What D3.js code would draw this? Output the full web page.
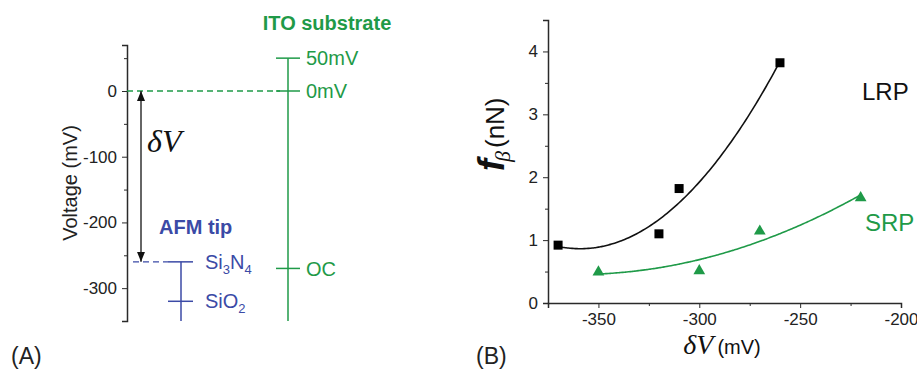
<!DOCTYPE html>
<html><head><meta charset="utf-8">
<script src="https://cdn.jsdelivr.net/npm/d3@7/dist/d3.min.js"></script>
<style>body{margin:0;background:#fff;} svg{display:block;font-family:Arial,"Liberation Sans",sans-serif;}</style>
</head><body>
<svg id="c" width="917" height="371"></svg>
<script>
// ---------- data ----------
// Panel A: energy level diagram (mV)
const itoLevels = [50, 0, -270];
const itoLabels = ["50mV", "0mV", "OC"];
const tipLevels = [-260, -320];          // Si3N4, SiO2
const tipLabels = ["Si3N4", "SiO2"];
const deltaV = [0, -260];
const aTicks = [-300, -200, -100, 0];
const aMinor = [-350, -250, -150, -50, 50];
// Panel B
const lrpX = [-370, -320, -310, -260];
const lrpY = [0.92, 1.10, 1.82, 3.82];
const srpX = [-350, -300, -270, -220];
const srpY = [0.50, 0.52, 1.15, 1.68];
const bxTicks = [-350, -300, -250, -200];
const bxMinor = [-325, -275, -225];
const byTicks = [0, 1, 2, 3, 4];
const byMinor = [0.5, 1.5, 2.5, 3.5];

const GREEN = "#1f9a48", BLUE = "#3b4aa6", AX = "#2a2a2a";
const fmt = d => String(d);   // plain hyphen minus, as in the figure
const svg = d3.select("#c");

// ---------- Panel A ----------
const yA = d3.scaleLinear().domain([-350, 70]).range([321, 45]);
const axA = 127, itoX = 288, tipX = 181, arrX = 141;
const gA = svg.append("g");
gA.append("g").attr("transform", `translate(${axA},0)`)
  .call(d3.axisLeft(yA).tickValues(aTicks).tickSize(5).tickPadding(5).tickFormat(fmt))
  .call(g => { g.select(".domain").attr("stroke-width", 1.5).attr("stroke", AX);
    g.selectAll("line").attr("stroke", AX);
    g.selectAll("text").attr("font-size", 17).attr("fill", "#222"); });
gA.append("g").attr("transform", `translate(${axA},0)`)
  .call(d3.axisLeft(yA).tickValues(aMinor).tickSize(3).tickFormat(""))
  .call(g => { g.select(".domain").remove(); g.selectAll("line").attr("stroke", AX); });
gA.append("text").attr("transform", `translate(77,183) rotate(-90)`)
  .attr("text-anchor", "middle").attr("font-size", 20).attr("fill", "#222").text("Voltage (mV)");

// ITO line
gA.append("line").attr("x1", itoX).attr("x2", itoX).attr("y1", yA(50)).attr("y2", yA(-350))
  .attr("stroke", GREEN).attr("stroke-width", 1.5);
itoLevels.forEach((v, i) => {
  gA.append("line").attr("x1", itoX - 12).attr("x2", itoX + 12).attr("y1", yA(v)).attr("y2", yA(v))
    .attr("stroke", GREEN).attr("stroke-width", 1.5);
  gA.append("text").attr("x", itoX + 18).attr("y", yA(v)).attr("dy", "0.36em")
    .attr("font-size", 20).attr("fill", GREEN).text(itoLabels[i]);
});
gA.append("text").attr("x", 327).attr("y", 30).attr("text-anchor", "middle")
  .attr("font-size", 20).attr("font-weight", "bold").attr("fill", GREEN).text("ITO substrate");
// dashed zero
gA.append("line").attr("x1", axA).attr("x2", itoX - 8).attr("y1", yA(0)).attr("y2", yA(0))
  .attr("stroke", GREEN).attr("stroke-width", 1.3).attr("stroke-dasharray", "6,4");

// tip
gA.append("line").attr("x1", tipX).attr("x2", tipX).attr("y1", yA(tipLevels[0])).attr("y2", yA(-350))
  .attr("stroke", BLUE).attr("stroke-width", 1.5);
tipLevels.forEach((v, i) => {
  gA.append("line").attr("x1", tipX - 13).attr("x2", tipX + 12).attr("y1", yA(v)).attr("y2", yA(v))
    .attr("stroke", BLUE).attr("stroke-width", 1.5);
  const t = gA.append("text").attr("x", 205).attr("y", yA(v) + 7).attr("font-size", 20).attr("fill", BLUE);
  const m = tipLabels[i].match(/^([A-Za-z]+)(\d)([A-Za-z]*)(\d?)$/);
  t.append("tspan").text(m[1]);
  t.append("tspan").attr("font-size", 13).attr("dy", 5).text(m[2]);
  if (m[3]) { t.append("tspan").attr("dy", -5).text(m[3]);
    t.append("tspan").attr("font-size", 13).attr("dy", 5).text(m[4]); }
});
gA.append("line").attr("x1", axA + 6).attr("x2", tipX - 13).attr("y1", yA(tipLevels[0])).attr("y2", yA(tipLevels[0]))
  .attr("stroke", BLUE).attr("stroke-width", 1.3).attr("stroke-dasharray", "6,4");
gA.append("text").attr("x", 159).attr("y", 234).attr("font-size", 20).attr("font-weight", "bold")
  .attr("fill", BLUE).text("AFM tip");

// double arrow
const defs = svg.append("defs");
defs.append("marker").attr("id", "ah").attr("viewBox", "0 0 10 10").attr("refX", 10).attr("refY", 5)
  .attr("markerWidth", 10).attr("markerHeight", 10).attr("markerUnits", "userSpaceOnUse").attr("orient", "auto-start-reverse")
  .append("path").attr("d", "M0,1 L10,5 L0,9 Z").attr("fill", "#111");
gA.append("line").attr("x1", arrX).attr("x2", arrX).attr("y1", yA(deltaV[0])).attr("y2", yA(deltaV[1]))
  .attr("stroke", "#333").attr("stroke-width", 1.5)
  .attr("marker-start", "url(#ah)").attr("marker-end", "url(#ah)");
gA.append("text").attr("x", 147).attr("y", 152).attr("font-family", "'Liberation Serif','DejaVu Serif',serif")
  .attr("font-style", "italic").attr("font-size", 32).attr("fill", "#111").text("δV");

gA.append("text").attr("x", 11).attr("y", 364).attr("font-size", 23).attr("fill", "#222").text("(A)");

// ---------- Panel B ----------
const xB = d3.scaleLinear().domain([-375, -200]).range([548, 901]);
const yB = d3.scaleLinear().domain([0, 4.5]).range([303, 20]);
const gB = svg.append("g");
gB.append("g").attr("transform", `translate(0,${yB(0)})`)
  .call(d3.axisBottom(xB).tickValues(bxTicks).tickSize(5).tickPadding(5).tickFormat(fmt))
  .call(g => { g.select(".domain").attr("stroke-width", 1.5).attr("stroke", AX);
    g.selectAll("line").attr("stroke", AX);
    g.selectAll("text").attr("font-size", 17).attr("fill", "#222"); });
gB.append("g").attr("transform", `translate(0,${yB(0)})`)
  .call(d3.axisBottom(xB).tickValues(bxMinor).tickSize(3).tickFormat(""))
  .call(g => { g.select(".domain").remove(); g.selectAll("line").attr("stroke", AX); });
gB.append("g").attr("transform", `translate(${xB(-375)},0)`)
  .call(d3.axisLeft(yB).tickValues(byTicks).tickSize(5).tickPadding(5).tickFormat(fmt))
  .call(g => { g.select(".domain").attr("stroke-width", 1.5).attr("stroke", AX);
    g.selectAll("line").attr("stroke", AX);
    g.selectAll("text").attr("font-size", 17).attr("fill", "#222"); });
gB.append("g").attr("transform", `translate(${xB(-375)},0)`)
  .call(d3.axisLeft(yB).tickValues(byMinor).tickSize(3).tickFormat(""))
  .call(g => { g.select(".domain").remove(); g.selectAll("line").attr("stroke", AX); });

// quadratic least-squares fit of the plotted points
function quadFit(xs, ys) {
  const mx = d3.mean(xs); const S = Array(5).fill(0), T = [0, 0, 0];
  xs.forEach((x0, i) => { const x = x0 - mx; let p = 1;
    for (let k = 0; k < 5; k++) { S[k] += p; if (k < 3) T[k] += p * ys[i]; p *= x; } });
  const A = [[S[0], S[1], S[2], T[0]], [S[1], S[2], S[3], T[1]], [S[2], S[3], S[4], T[2]]];
  for (let c = 0; c < 3; c++) { for (let r = c + 1; r < 3; r++) { const f = A[r][c] / A[c][c];
    for (let k = c; k < 4; k++) A[r][k] -= f * A[c][k]; } }
  const co = [0, 0, 0];
  for (let r = 2; r >= 0; r--) { let s = A[r][3]; for (let k = r + 1; k < 3; k++) s -= A[r][k] * co[k]; co[r] = s / A[r][r]; }
  return x => { const u = x - mx; return co[0] + co[1] * u + co[2] * u * u; };
}
const line = d3.line().x(d => xB(d[0])).y(d => yB(d[1])).curve(d3.curveBasis);
function drawFit(xs, ys, color) {
  const f = quadFit(xs, ys);
  const pts = d3.range(d3.min(xs), d3.max(xs) + 0.01, 1).map(x => [x, f(x)]);
  gB.append("path").attr("d", line(pts)).attr("fill", "none").attr("stroke", color).attr("stroke-width", 1.6);
}
drawFit(lrpX, lrpY, "#111");
drawFit(srpX, srpY, GREEN);

gB.selectAll(".sq").data(lrpX).join("rect").attr("class", "sq")
  .attr("x", (d) => xB(d) - 4.5).attr("y", (d, i) => yB(lrpY[i]) - 4.5)
  .attr("width", 9).attr("height", 9).attr("fill", "#000");
const tri = d3.symbol().type(d3.symbolTriangle).size(60);
gB.selectAll(".tr").data(srpX).join("path").attr("class", "tr")
  .attr("transform", (d, i) => `translate(${xB(d)},${yB(srpY[i]) + 0.5})`)
  .attr("d", tri).attr("fill", GREEN);

gB.append("text").attr("x", 862).attr("y", 100).attr("font-size", 24).attr("fill", "#111").text("LRP");
gB.append("text").attr("x", 865).attr("y", 231).attr("font-size", 24).attr("fill", GREEN).text("SRP");

// y title
const yt = gB.append("text").attr("transform", "translate(504,171) rotate(-90)").attr("fill", "#111");
yt.append("tspan").attr("font-size", 36).attr("font-style", "italic").attr("font-weight", "bold").text("f");
yt.append("tspan").attr("font-size", 22).attr("font-style", "italic").attr("font-family", "'Liberation Serif',serif").attr("dy", 6).attr("dx", -3).text("β");
yt.append("tspan").attr("font-size", 26).attr("dy", -6).attr("dx", 3).text("(nN)");

// x title
const xt = gB.append("text").attr("x", 722).attr("y", 354).attr("text-anchor", "middle").attr("fill", "#111");
xt.append("tspan").attr("font-family", "'Liberation Serif',serif").attr("font-style", "italic").attr("font-size", 28).text("δV");
xt.append("tspan").attr("font-size", 20).attr("dx", 4).text("(mV)");

gB.append("text").attr("x", 476).attr("y", 364).attr("font-size", 23).attr("fill", "#222").text("(B)");
</script>
</body></html>
